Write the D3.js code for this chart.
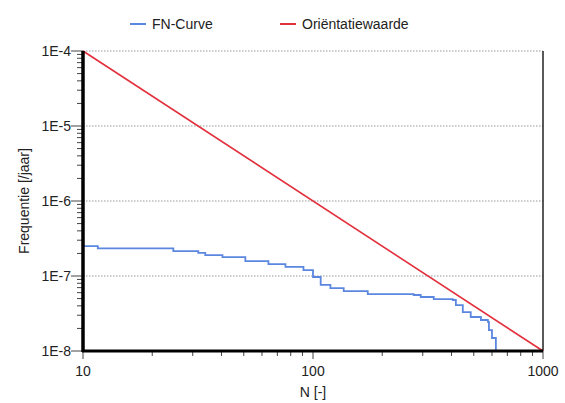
<!DOCTYPE html>
<html>
<head>
<meta charset="utf-8">
<script src="https://cdn.jsdelivr.net/npm/d3@7"></script>
<style>
  body { margin: 0; background: #fff; }
  text { font-family: 'Liberation Sans', Arial, sans-serif; fill: #222; }
</style>
</head>
<body>
<svg id="chart" width="565" height="403"></svg>
<script>
// FN-curve values (N, frequency per year)
var fn_n = [10, 11.6, 24.7, 31.7, 34, 40.4, 50.8, 64, 75.9, 90.9, 100, 108, 119, 136, 173, 274, 294, 335, 405, 418, 448, 485, 537, 576, 582, 600, 624];
var fn_f = [2.5e-7, 2.33e-7, 2.15e-7, 2.03e-7, 1.9e-7, 1.79e-7, 1.58e-7, 1.44e-7, 1.32e-7, 1.2e-7, 9.7e-8, 7.6e-8, 6.9e-8, 6.3e-8, 5.75e-8, 5.58e-8, 5.25e-8, 4.93e-8, 4.79e-8, 4.1e-8, 3.3e-8, 2.84e-8, 2.59e-8, 2.44e-8, 1.9e-8, 1.49e-8, 1e-8];

// orientation value line endpoints
var ori_n = [10, 1000];
var ori_f = [1e-4, 1e-8];

var x_ticks = [10, 100, 1000];
var x_tick_labels = ['10', '100', '1000'];
var y_ticks = [1e-4, 1e-5, 1e-6, 1e-7, 1e-8];
var y_tick_labels = ['1E-4', '1E-5', '1E-6', '1E-7', '1E-8'];

var legend_names = ['FN-Curve', 'Oriëntatiewaarde'];
var legend_colors = ['#5b87e0', '#e2303c'];

var margin = {left: 83, top: 51, right: 22, bottom: 52};
var width = 565 - margin.left - margin.right;
var height = 403 - margin.top - margin.bottom;

var svg = d3.select('#chart');
var g = svg.append('g')
  .attr('transform', 'translate(' + margin.left + ',' + margin.top + ')');

var x_scale = d3.scaleLog().domain([10, 1000]).range([0, width]);
var y_scale = d3.scaleLog().domain([1e-8, 1e-4]).range([height, 0]);

// dotted gridlines
g.selectAll('.grid')
  .data(y_ticks)
  .enter()
  .append('line')
  .attr('class', 'grid')
  .attr('x1', 0)
  .attr('x2', width)
  .attr('y1', function(d){ return y_scale(d); })
  .attr('y2', function(d){ return y_scale(d); })
  .attr('stroke', '#999')
  .attr('stroke-width', 1)
  .attr('stroke-dasharray', '1.5,1.5');

// right border
g.append('line')
  .attr('x1', width).attr('x2', width)
  .attr('y1', 0).attr('y2', height)
  .attr('stroke', '#222')
  .attr('stroke-width', 1.5);

// minor ticks
var y_minor = [];
var x_minor = [];
for (var e = -8; e < -4; e++) {
  for (var m = 2; m < 10; m++) { y_minor.push(m * Math.pow(10, e)); }
}
for (var e2 = 1; e2 < 3; e2++) {
  for (var m2 = 2; m2 < 10; m2++) { x_minor.push(m2 * Math.pow(10, e2)); }
}

g.selectAll('.y_minor')
  .data(y_minor)
  .enter()
  .append('line')
  .attr('x1', -6).attr('x2', 0)
  .attr('y1', function(d){ return y_scale(d); })
  .attr('y2', function(d){ return y_scale(d); })
  .attr('stroke', '#444');

g.selectAll('.x_minor')
  .data(x_minor)
  .enter()
  .append('line')
  .attr('y1', height).attr('y2', height + 5)
  .attr('x1', function(d){ return x_scale(d); })
  .attr('x2', function(d){ return x_scale(d); })
  .attr('stroke', '#444');

// major ticks and labels
g.selectAll('.y_major')
  .data(y_ticks)
  .enter()
  .append('line')
  .attr('x1', -12).attr('x2', 0)
  .attr('y1', function(d){ return y_scale(d); })
  .attr('y2', function(d){ return y_scale(d); })
  .attr('stroke', '#444');

g.selectAll('.y_label')
  .data(y_ticks)
  .enter()
  .append('text')
  .attr('x', -12)
  .attr('y', function(d){ return y_scale(d) + 5; })
  .attr('text-anchor', 'end')
  .style('font-size', '14px')
  .text(function(d, i){ return y_tick_labels[i]; });

g.selectAll('.x_major')
  .data(x_ticks)
  .enter()
  .append('line')
  .attr('y1', height).attr('y2', height + 8)
  .attr('x1', function(d){ return x_scale(d); })
  .attr('x2', function(d){ return x_scale(d); })
  .attr('stroke', '#444');

g.selectAll('.x_label')
  .data(x_ticks)
  .enter()
  .append('text')
  .attr('x', function(d){ return x_scale(d); })
  .attr('y', height + 25)
  .attr('text-anchor', 'middle')
  .style('font-size', '14px')
  .text(function(d, i){ return x_tick_labels[i]; });

// data lines
var ori_line = d3.line()
  .x(function(d){ return x_scale(d[0]); })
  .y(function(d){ return y_scale(d[1]); });

g.append('path')
  .datum(d3.zip(ori_n, ori_f))
  .attr('d', ori_line)
  .attr('fill', 'none')
  .attr('stroke', legend_colors[1])
  .attr('stroke-width', 1.6);

var fn_line = d3.line()
  .curve(d3.curveStepAfter)
  .x(function(d){ return x_scale(d[0]); })
  .y(function(d){ return y_scale(d[1]); });

g.append('path')
  .datum(d3.zip(fn_n, fn_f))
  .attr('d', fn_line)
  .attr('fill', 'none')
  .attr('stroke', legend_colors[0])
  .attr('stroke-width', 1.8);

// thick left and bottom axes
g.append('line')
  .attr('x1', 0).attr('x2', 0)
  .attr('y1', 0).attr('y2', height + 1)
  .attr('stroke', '#000')
  .attr('stroke-width', 3.5);
g.append('line')
  .attr('x1', -1).attr('x2', width)
  .attr('y1', height).attr('y2', height)
  .attr('stroke', '#000')
  .attr('stroke-width', 3);

// axis titles
svg.append('text')
  .attr('x', margin.left + width / 2)
  .attr('y', 397)
  .attr('text-anchor', 'middle')
  .style('font-size', '14px')
  .text('N [-]');

svg.append('text')
  .attr('transform', 'translate(29,' + (margin.top + height / 2) + ') rotate(-90)')
  .attr('text-anchor', 'middle')
  .style('font-size', '14px')
  .text('Frequentie [/jaar]');

// legend
var legend_x = [130, 280];
var legend = svg.selectAll('.legend')
  .data(legend_names)
  .enter()
  .append('g')
  .attr('transform', function(d, i){ return 'translate(' + legend_x[i] + ',24)'; });

legend.append('line')
  .attr('x1', 0).attr('x2', 16)
  .attr('stroke', function(d, i){ return legend_colors[i]; })
  .attr('stroke-width', 2);

legend.append('text')
  .attr('x', 22)
  .attr('y', 5)
  .style('font-size', '14px')
  .text(function(d){ return d; });
</script>
</body>
</html>
